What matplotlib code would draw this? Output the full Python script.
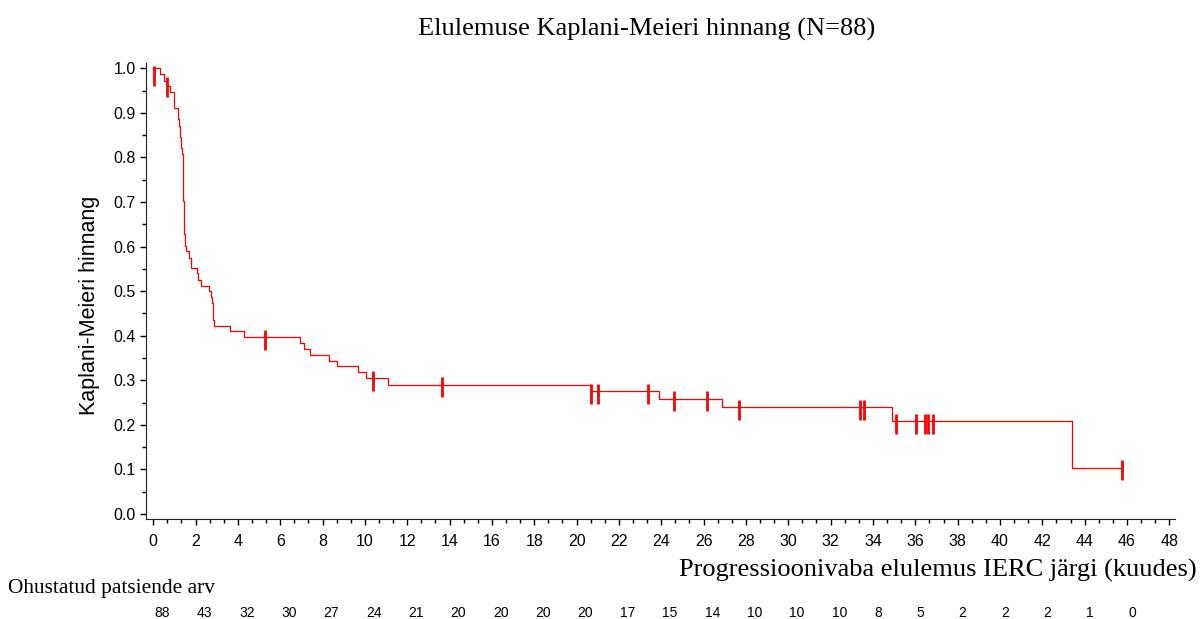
import matplotlib
matplotlib.use("Agg")
import matplotlib.pyplot as plt
import matplotlib.transforms as mtransforms
from matplotlib.ticker import MultipleLocator

# Kaplan-Meier step curve (time in months, survival after the step)
step_times = [0.0, 0.30, 0.52, 0.66, 0.77, 0.99, 1.18, 1.22, 1.25, 1.31, 1.37, 1.40,
              1.42, 1.45, 1.50, 1.56, 1.67, 1.80, 2.06, 2.11, 2.27, 2.65, 2.73, 2.79,
              2.80, 2.85, 3.64, 4.27, 6.92, 7.14, 7.42, 8.28, 8.68, 9.67, 10.05,
              11.08, 20.70, 23.90, 26.85, 34.90, 43.42, 45.76]
step_surv = [1.0, 0.986, 0.972, 0.961, 0.947, 0.910, 0.885, 0.871, 0.846, 0.822, 0.807,
             0.781, 0.702, 0.628, 0.602, 0.589, 0.575, 0.552, 0.540, 0.525, 0.512,
             0.501, 0.486, 0.474, 0.435, 0.422, 0.410, 0.397, 0.383, 0.370, 0.357,
             0.344, 0.331, 0.318, 0.305, 0.290, 0.276, 0.259, 0.240, 0.208, 0.104,
             0.104]

# Censored observations
censor_times = [0.05, 0.66, 5.29, 10.39, 13.62, 20.70, 21.03, 23.38, 24.60, 26.18,
                27.69, 33.41, 33.58, 35.08, 36.03, 36.46, 36.58, 36.82, 45.76]
censor_surv = [0.982, 0.957, 0.391, 0.299, 0.284, 0.270, 0.270, 0.270, 0.253, 0.253,
               0.234, 0.234, 0.234, 0.202, 0.202, 0.202, 0.202, 0.202, 0.098]

# Number at risk
risk_times = list(range(0, 48, 2))
risk_counts = [88, 43, 32, 30, 27, 24, 21, 20, 20, 20, 20, 17, 15, 14, 10, 10, 10,
               8, 5, 2, 2, 2, 1, 0]

title = "Elulemuse Kaplani-Meieri hinnang (N=88)"
xlabel = "Progressioonivaba elulemus IERC järgi (kuudes)"
ylabel = "Kaplani-Meieri hinnang"
risk_label = "Ohustatud patsiende arv"

serif = ["Liberation Serif", "DejaVu Serif"]
sans = ["Liberation Sans", "DejaVu Sans"]

fig = plt.figure(figsize=(12, 6.19), dpi=100)
ax = fig.add_axes([0.1217, 0.161, 0.979 - 0.1217, 0.8977 - 0.161])

ax.step(step_times, step_surv, where="post", color="#ff0000", lw=0.9)
ax.plot(censor_times, censor_surv, ls="none", marker="|", ms=15, mew=2.0,
        color="#ff0000")

ax.set_xlim(-0.34, 48.26)
ax.set_ylim(-0.012, 1.011)
for s in ["top", "right"]:
    ax.spines[s].set_visible(False)
ax.spines["left"].set_color("#222222")
ax.spines["bottom"].set_color("#222222")

ax.xaxis.set_major_locator(MultipleLocator(2))
ax.xaxis.set_minor_locator(MultipleLocator(2 / 3))
ax.yaxis.set_major_locator(MultipleLocator(0.1))
ax.yaxis.set_minor_locator(MultipleLocator(0.05))
ax.set_yticks([i / 10 for i in range(11)])
ax.set_yticklabels([f"{i/10:.1f}" for i in range(11)])
ax.tick_params(axis="x", which="major", length=4.5, width=1, pad=6, labelsize=11.5)
ax.tick_params(axis="x", which="minor", length=3, width=1)
ax.tick_params(axis="y", which="major", length=4.5, width=1, pad=3, labelsize=11.5)
ax.tick_params(axis="y", which="minor", length=3, width=1)
for lab in ax.get_xticklabels() + ax.get_yticklabels():
    lab.set_fontfamily(sans)

fig.text(0.539, 0.952, title, ha="center", va="center", fontsize=19, family=serif)
fig.text(0.9975, 0.079, xlabel, ha="right", va="center", fontsize=19, family=serif)
fig.text(0.075, 0.507, ylabel, ha="center", va="center", rotation=90,
         fontsize=15.5, family=sans)
fig.text(0.0067, 0.0485, risk_label, ha="left", va="center", fontsize=15.4,
         family=serif)

trans = mtransforms.blended_transform_factory(ax.transData, fig.transFigure)
for t, n in zip(risk_times, risk_counts):
    fig.text(t + 0.05, 0.0097, str(n), transform=trans, ha="left", va="center",
             fontsize=10, family=sans)

fig.savefig("out.png", dpi=100)
